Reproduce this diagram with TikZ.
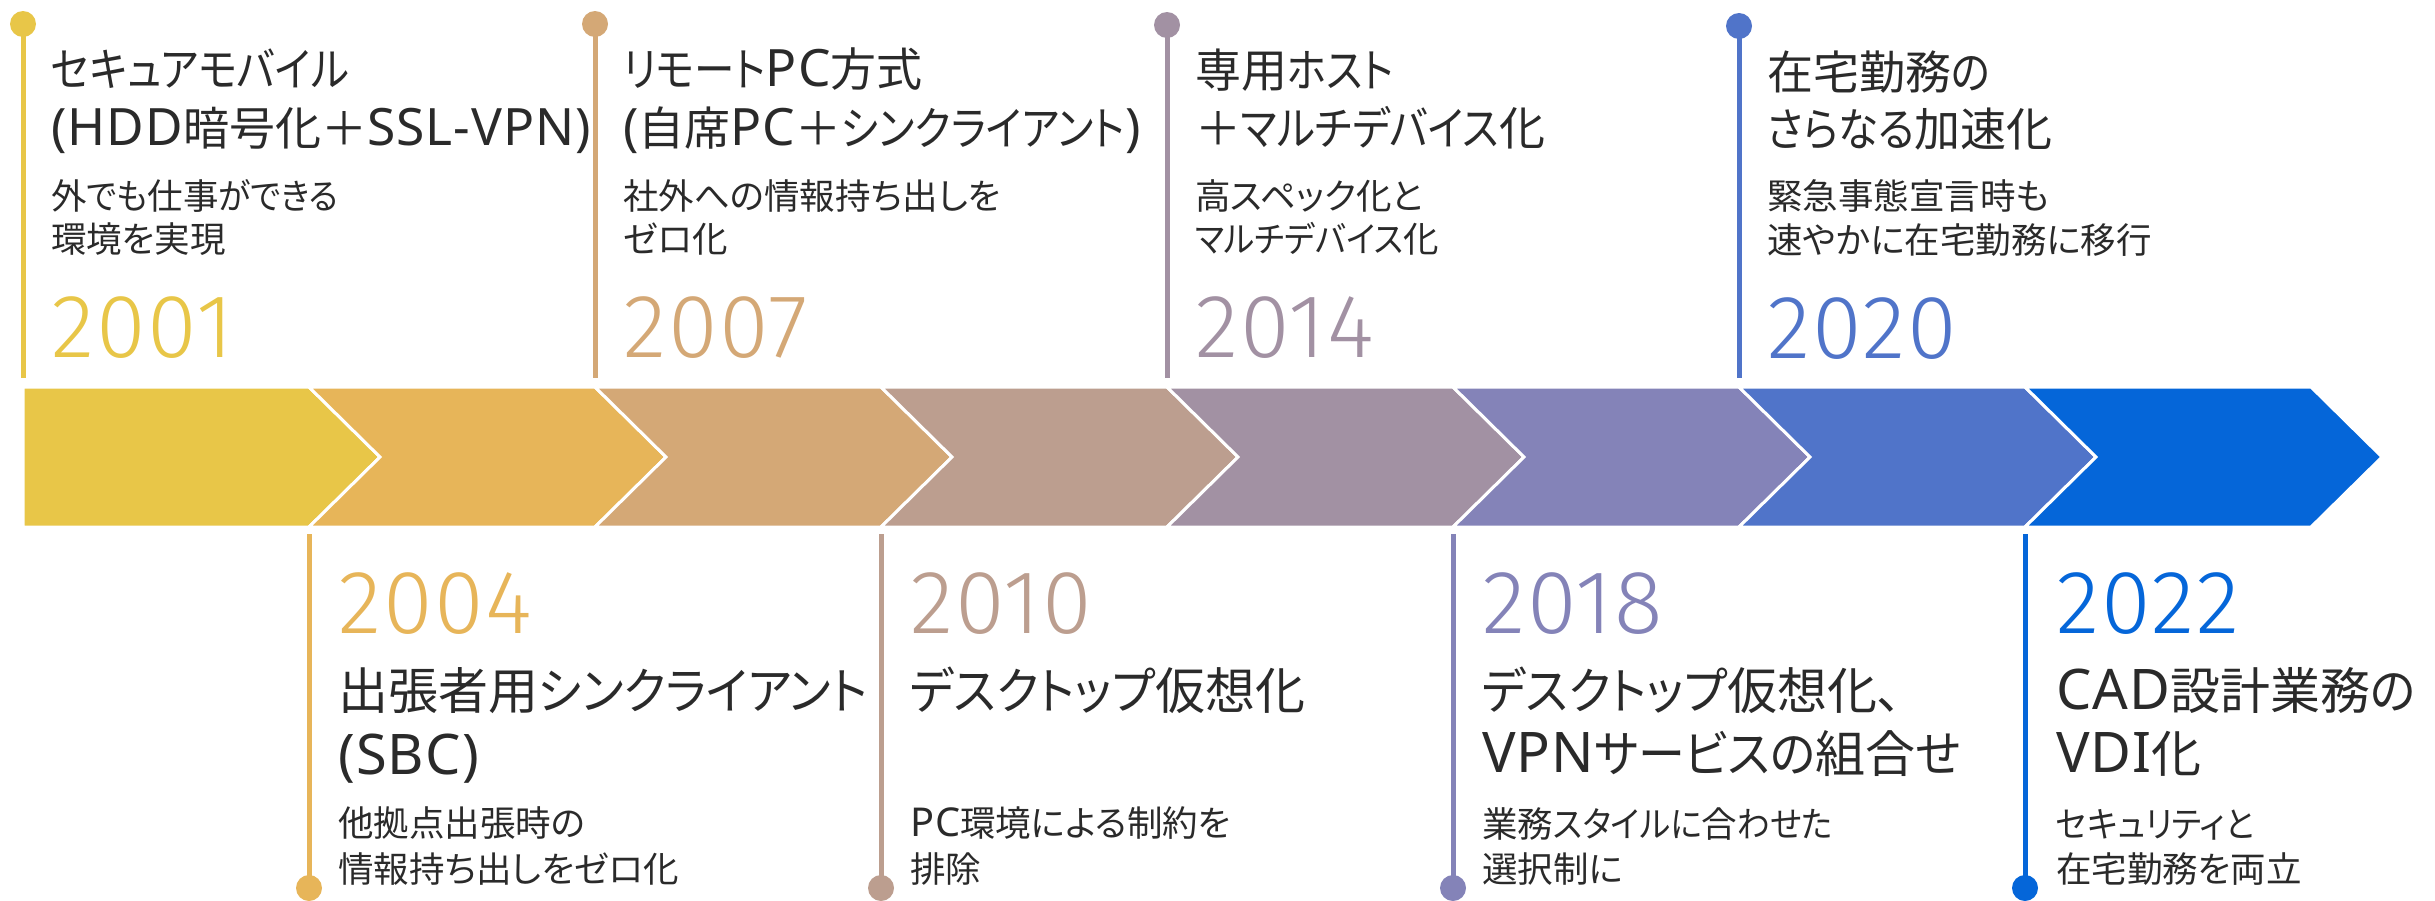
\documentclass[tikz,border=0pt]{standalone}
\usepackage{fontspec}
\setmainfont{Noto Sans CJK JP}[RawFeature=+palt]
\newfontfamily\kanafontT{Noto Sans CJK JP}[RawFeature=+palt, FakeStretch=0.88]
\newfontfamily\kanafontB{Noto Sans CJK JP}[RawFeature=+palt, FakeStretch=0.94]
\newfontfamily\kanafontS{Noto Sans CJK JP}[RawFeature=+palt, FakeStretch=0.92]
\newfontfamily\latinfont{Noto Sans}[Scale=1.12, LetterSpace=2]
\newfontfamily\yearfont{Fira Sans Light}[LetterSpace=2]
\let\kanafont\relax
\newcommand\kn[1]{{\kanafont #1}}
\newcommand\lt[1]{{\latinfont #1}}
\definecolor{cA}{HTML}{E8C648}
\definecolor{cB}{HTML}{E7B559}
\definecolor{cC}{HTML}{D4A876}
\definecolor{cD}{HTML}{BC9E8F}
\definecolor{cE}{HTML}{A291A3}
\definecolor{cF}{HTML}{8483B8}
\definecolor{cG}{HTML}{5074C9}
\definecolor{cH}{HTML}{0566D9}
\definecolor{txt}{HTML}{2A2A2A}
\tikzset{
  ttl/.style={anchor=base west, inner sep=0, text=txt, font=\fontsize{46}{46}\selectfont\let\kanafont\kanafontT},
  bttl/.style={anchor=base west, inner sep=0, text=txt, font=\fontsize{50}{50}\selectfont\let\kanafont\kanafontB},
  subt/.style={anchor=base west, inner sep=0, text=txt, font=\fontsize{35.5}{35.5}\selectfont\let\kanafont\kanafontS},
  yr/.style={anchor=base west, inner sep=0, font=\yearfont\fontsize{90}{90}\selectfont},
  dotnode/.style={circle, inner sep=0, minimum size=26, fill=#1},
  stem/.style={line width=5, draw=#1},
  seg/.style={fill=#1, draw=white, line width=3, line join=miter}
}
\begin{document}
\begin{tikzpicture}[x=1pt,y=-1pt]
\useasboundingbox (0,0) rectangle (2435,900);
% chevron band
\path[seg=cA] (23,387) -- (309,387) -- (380,457) -- (309,527) -- (23,527) -- cycle;
\path[seg=cB] (309,387) -- (595,387) -- (666,457) -- (595,527) -- (309,527) -- (380,457) -- cycle;
\path[seg=cC] (595,387) -- (881,387) -- (952,457) -- (881,527) -- (595,527) -- (666,457) -- cycle;
\path[seg=cD] (881,387) -- (1167,387) -- (1238,457) -- (1167,527) -- (881,527) -- (952,457) -- cycle;
\path[seg=cE] (1167,387) -- (1453,387) -- (1524,457) -- (1453,527) -- (1167,527) -- (1238,457) -- cycle;
\path[seg=cF] (1453,387) -- (1739,387) -- (1810,457) -- (1739,527) -- (1453,527) -- (1524,457) -- cycle;
\path[seg=cG] (1739,387) -- (2025,387) -- (2096,457) -- (2025,527) -- (1739,527) -- (1810,457) -- cycle;
\path[seg=cH] (2025,387) -- (2311,387) -- (2382,457) -- (2311,527) -- (2025,527) -- (2096,457) -- cycle;

% ---- top items ----
\node[dotnode=cA] (d1) at (23,24) {};
\coordinate (e1) at (23,378);
\draw[stem=cA] (d1.center) -- (e1);
\node[ttl] (t1a) at (51,86) {\kn{セキュアモバイル}};
\node[ttl] (t1b) at (51,145) {\lt{(HDD}暗号化＋\lt{SSL-VPN)}};
\node[subt] (s1a) at (51,209) {外\kn{でも}仕事\kn{ができる}};
\node[subt] (s1b) at (51,252) {環境を実現};
\node[yr, text=cA] (y1) at (51,357) {2001};

\node[dotnode=cC] (d3) at (595,24) {};
\coordinate (e3) at (595,378);
\draw[stem=cC] (d3.center) -- (e3);
\node[ttl] (t3a) at (623,86) {\kn{リモート}\lt{PC}方式};
\node[ttl] (t3b) at (623,145) {\lt{(}自席\lt{PC}＋\kn{シンクライアント}\lt{)}};
\node[subt] (s3a) at (623,209) {社外への情報持ち出しを};
\node[subt] (s3b) at (623,252) {ゼロ化};
\node[yr, text=cC] (y3) at (623,357) {2007};

\node[dotnode=cE] (d5) at (1167,25) {};
\coordinate (e5) at (1167,378);
\draw[stem=cE] (d5.center) -- (e5);
\node[ttl] (t5a) at (1195,87) {専用\kn{ホスト}};
\node[ttl] (t5b) at (1195,145) {＋\kn{マルチデバイス}化};
\node[subt] (s5a) at (1195,209) {高スペック化と};
\node[subt] (s5b) at (1195,252) {\kn{マルチデバイス}化};
\node[yr, text=cE] (y5) at (1195,357) {2014};

\node[dotnode=cG] (d7) at (1739,26) {};
\coordinate (e7) at (1739,378);
\draw[stem=cG] (d7.center) -- (e7);
\node[ttl] (t7a) at (1767,89) {在宅勤務\kn{の}};
\node[ttl] (t7b) at (1767,146) {\kn{さらなる}加速化};
\node[subt] (s7a) at (1767,209) {緊急事態宣言時も};
\node[subt] (s7b) at (1767,253) {速やかに在宅勤務に移行};
\node[yr, text=cG] (y7) at (1767,358) {2020};

% ---- bottom items ----
\node[dotnode=cB] (d2) at (309,888) {};
\coordinate (e2) at (309,534);
\draw[stem=cB] (e2) -- (d2.center);
\node[yr, text=cB] (y2) at (338,633) {2004};
\node[bttl] (t2a) at (338,709) {出張者用\kn{シンクライアント}};
\node[bttl] (t2b) at (338,774) {\lt{(SBC)}};
\node[subt] (s2a) at (338,836) {他拠点出張時の};
\node[subt] (s2b) at (338,882) {情報持ち出しをゼロ化};

\node[dotnode=cD] (d4) at (881,888) {};
\coordinate (e4) at (881,534);
\draw[stem=cD] (e4) -- (d4.center);
\node[yr, text=cD] (y4) at (910,633) {2010};
\node[bttl] (t4a) at (910,709) {\kn{デスクトップ}仮想化};
\node[subt] (s4a) at (910,836) {\lt{PC}環境による制約を};
\node[subt] (s4b) at (910,882) {排除};

\node[dotnode=cF] (d6) at (1453,888) {};
\coordinate (e6) at (1453,534);
\draw[stem=cF] (e6) -- (d6.center);
\node[yr, text=cF] (y6) at (1482,633) {2018};
\node[bttl] (t6a) at (1482,709) {\kn{デスクトップ}仮想化、};
\node[bttl] (t6b) at (1482,772) {\lt{VPN}\kn{サービスの}組合\kn{せ}};
\node[subt] (s6a) at (1482,837) {業務\kn{スタイルに}合\kn{わせた}};
\node[subt] (s6b) at (1482,882) {選択制に};

\node[dotnode=cH] (d8) at (2025,888) {};
\coordinate (e8) at (2025,534);
\draw[stem=cH] (e8) -- (d8.center);
\node[yr, text=cH] (y8) at (2056,633) {2022};
\node[bttl] (t8a) at (2056,709) {\lt{CAD}設計業務\kn{の}};
\node[bttl] (t8b) at (2056,772) {\lt{VDI}化};
\node[subt] (s8a) at (2056,837) {\kn{セキュリティと}};
\node[subt] (s8b) at (2056,882) {在宅勤務を両立};
\end{tikzpicture}
\end{document}
